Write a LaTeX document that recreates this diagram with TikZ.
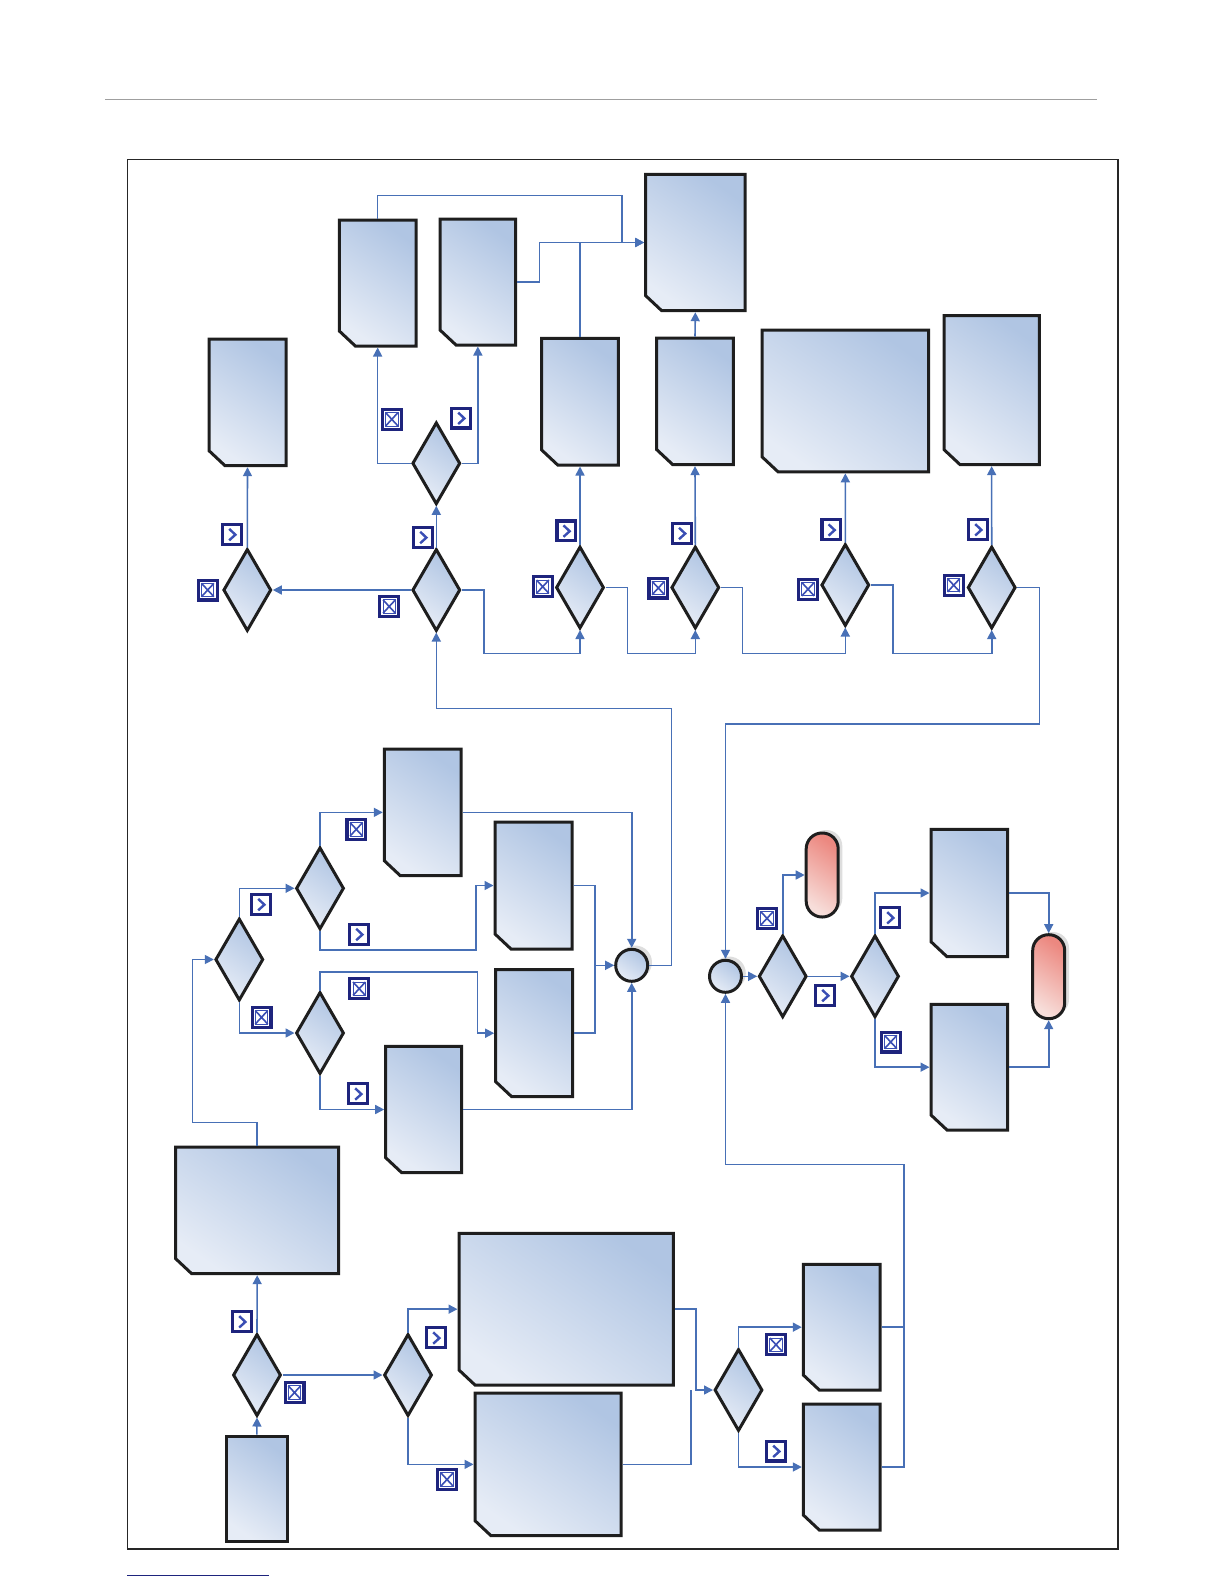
\documentclass[tikz,border=0pt]{standalone}
\usetikzlibrary{shapes.geometric,arrows.meta}
\definecolor{cline}{RGB}{72,112,182}
\definecolor{bline}{RGB}{30,30,30}
\definecolor{blight}{RGB}{230,236,246}
\definecolor{bdark}{RGB}{176,197,227}
\definecolor{rlight}{RGB}{247,222,218}
\definecolor{rdark}{RGB}{236,136,128}
\definecolor{icnavy}{RGB}{30,36,125}
\definecolor{icblue}{RGB}{58,78,180}
\tikzset{
  conn/.style={draw=cline, line width=0.8bp, -{Triangle[length=4.5bp,width=4.5bp]}},
  wire/.style={draw=cline, line width=0.8bp},
  boxshade/.style={draw=bline, line width=1.5bp, line join=miter, left color=blight, right color=bdark, shading angle=145},
  anchorbox/.style={inner sep=0pt, outer sep=0.75bp, draw=none, rectangle},
  dec/.style={shape=diamond, inner sep=0pt, minimum width=24bp, minimum height=41bp, draw=bline, line width=1.5bp, left color=blight, right color=bdark, shading angle=145},
  junc/.style={circle, inner sep=0pt, minimum size=16bp, draw=bline, line width=1.5bp, left color=blight, right color=bdark, shading angle=145},
  term/.style={rectangle, rounded corners=7.9bp, inner sep=0pt, minimum width=16bp, minimum height=42bp, draw=bline, line width=1.5bp, left color=rlight, right color=rdark, shading angle=145},
  icbase/.style={rectangle, inner sep=0pt, minimum width=11bp, minimum height=11.5bp, fill=icnavy},
  icx/.style={icbase, path picture={
    \fill[white] ([shift={(1.6bp,-1.6bp)}]path picture bounding box.north west) rectangle ([shift={(-1.6bp,1.6bp)}]path picture bounding box.south east);
    \draw[icblue, line width=0.45bp] ([shift={(2.4bp,-2.4bp)}]path picture bounding box.north west) rectangle ([shift={(-2.4bp,2.4bp)}]path picture bounding box.south east);
    \draw[icblue, line width=0.8bp] ([shift={(2.4bp,-2.4bp)}]path picture bounding box.north west) -- ([shift={(-2.4bp,2.4bp)}]path picture bounding box.south east)
      ([shift={(-2.4bp,-2.4bp)}]path picture bounding box.north east) -- ([shift={(2.4bp,2.4bp)}]path picture bounding box.south west);
  }},
  icc/.style={icbase, path picture={
    \fill[white] ([shift={(1.6bp,-1.6bp)}]path picture bounding box.north west) rectangle ([shift={(-1.6bp,1.6bp)}]path picture bounding box.south east);
    \draw[icblue, line width=1.2bp, line join=miter] ([shift={(-1.4bp,2.7bp)}]path picture bounding box.center) -- ([shift={(1.7bp,-0.2bp)}]path picture bounding box.center) -- ([shift={(-1.4bp,-3bp)}]path picture bounding box.center);
  }},
}
\newcommand{\docbox}[5]{%
  \path[boxshade] (#2,#3) -- (#4,#3) -- (#4,#5) -- ({#2+16},#5) -- (#2,{#5-15}) -- cycle;
  \node[anchorbox, minimum width={(#4-#2)*0.5bp}, minimum height={(#5-#3)*0.5bp}] (#1) at ({(#2+#4)/2},{(#3+#5)/2}) {};}
\newcommand{\plainbox}[5]{%
  \path[boxshade] (#2,#3) rectangle (#4,#5);
  \node[anchorbox, minimum width={(#4-#2)*0.5bp}, minimum height={(#5-#3)*0.5bp}] (#1) at ({(#2+#4)/2},{(#3+#5)/2}) {};}
\begin{document}
\begin{tikzpicture}[x=0.5bp,y=-0.5bp]
\useasboundingbox (0,0) rectangle (1224,1584);
\draw[gray!75, line width=0.5bp] (105,99) -- (1097,99);
\draw[black!85, line width=0.6bp] (127.3,159.6) rectangle (1118,1549);
\draw[icnavy, line width=0.6bp] (127.3,1575.3) -- (269,1575.3);

% shadows
\fill[black!13] (635.2,962.3) circle (8.4bp);
\fill[black!13] (729,973.3) circle (8.4bp);
\fill[black!13, rounded corners=8bp] (810,830) rectangle (842.3,914.3);
\fill[black!13, rounded corners=8bp] (1036.3,932) rectangle (1069,1015.3);

% boxes
\docbox{bH}{209}{339}{286}{465.7}
\docbox{bA}{339.3}{220}{416}{346}
\docbox{bB}{440}{219}{515.7}{345}
\docbox{bD}{541.7}{338.3}{618.3}{465}
\docbox{bC}{645.7}{174.3}{745}{310.7}
\docbox{bE}{656.7}{338}{733.3}{464.6}
\docbox{bF}{762}{330}{928.7}{471.8}
\docbox{bG}{944}{315.7}{1039.3}{464.6}
\docbox{bMa}{384.3}{749}{461}{875.7}
\docbox{bMb}{495}{822}{572}{949}
\docbox{bMc}{495.7}{969.7}{572.7}{1096.7}
\docbox{bMd}{385.7}{1046.3}{461.7}{1172.7}
\docbox{bRc}{931}{829.3}{1007.7}{956.7}
\docbox{bRd}{931}{1004.3}{1007.7}{1130}
\docbox{bBa}{175.7}{1147}{338.7}{1273.7}
\docbox{bBb}{459}{1233.3}{673.3}{1385}
\docbox{bBc}{475}{1393}{621}{1535.7}
\docbox{bRe}{803.3}{1264.3}{880}{1390}
\docbox{bRf}{803.3}{1404}{880}{1530}
\plainbox{bS}{226.7}{1436}{287}{1541.7}

% decisions
\node[dec] (dH) at (247.3,590) {};
\node[dec] (dM) at (436.3,590) {};
\node[dec] (dU) at (436.3,463.3) {};
\node[dec] (dD) at (580,587.5) {};
\node[dec] (dE) at (695.3,587.5) {};
\node[dec] (dF) at (845.3,585) {};
\node[dec] (dG) at (991.7,587.5) {};
\node[dec] (dLa) at (239.3,959.5) {};
\node[dec] (dLb) at (320,888.3) {};
\node[dec] (dLc) at (320,1033) {};
\node[dec] (dRa) at (782.7,976.3) {};
\node[dec] (dRb) at (875,976.3) {};
\node[dec] (dBa) at (257,1375) {};
\node[dec] (dBb) at (408,1375) {};
\node[dec] (dBc) at (738.5,1390) {};

% junctions and terminators
\node[junc] (cA) at (631.7,965.3) {};
\node[junc] (cB) at (725.5,976.3) {};
\node[term] (tA) at (822.2,875) {};
\node[term] (tB) at (1048.7,976.7) {};

% connectors, top
\draw[conn] (dM.west) -- (dH.east);
\draw[conn] (dH.north) -- (bH.south);
\draw[conn] (dM.north) -- (dU.south);
\draw[conn] (dU.west) -| (bA.south);
\draw[conn] (dU.east) -| (bB.south);
\coordinate (jA) at (622,195.3);
\draw[conn] (bA.north) |- (jA) |- (bC.west);
\coordinate (jB) at (539.3,242.5);
\draw[conn] (bB.east) -| (jB) -- (bC.west);
\draw[wire] (bD.north) -- (bD.north |- bC.west);
\draw[conn] (bE.north) -- (bC.south);
\draw[conn] (dD.north) -- (bD.south);
\draw[conn] (dE.north) -- (bE.south);
\draw[conn] (dF.north) -- (bF.south);
\draw[conn] (dG.north) -- (bG.south);
\coordinate (kM) at (483.7,653.3);
\draw[conn] (dM.east) -| (kM) -| (dD.south);
\coordinate (kD) at (627.3,653.3);
\draw[conn] (dD.east) -| (kD) -| (dE.south);
\coordinate (kE) at (742.3,653.3);
\draw[conn] (dE.east) -| (kE) -| (dF.south);
\coordinate (kF) at (892.7,653.3);
\draw[conn] (dF.east) -| (kF) -| (dG.south);
\coordinate (kG) at (1039.3,723.7);
\draw[conn] (dG.east) -| (kG) -| (cB.north);
\coordinate (kC) at (671.3,708.3);
\draw[conn] (cA.east) -| (kC) -| (dM.south);

% connectors, middle left
\coordinate (kBa) at (192.3,1122.3);
\draw[conn] (bBa.north) |- (kBa) |- (dLa.west);
\draw[conn] (dLa.north) |- (dLb.west);
\draw[conn] (dLa.south) |- (dLc.west);
\draw[conn] (dLb.north) |- (bMa.west);
\coordinate (kLb) at (476,950);
\draw[conn] (dLb.south) |- (kLb) |- (bMb.west);
\coordinate (kLc) at (477.3,972);
\draw[conn] (dLc.north) |- (kLc) |- (bMc.west);
\draw[conn] (dLc.south) |- (bMd.west);
\draw[conn] (bMa.east) -| (cA.north);
\coordinate (kMb) at (595,965.3);
\draw[conn] (bMb.east) -| (kMb) -- (cA.west);
\draw[wire] (bMc.east) -| (kMb);
\draw[conn] (bMd.east) -| (cA.south);

% connectors, right
\draw[conn] (cB.east) -- (dRa.west);
\draw[conn] (dRa.north) |- (tA.west);
\draw[conn] (dRa.east) -- (dRb.west);
\draw[conn] (dRb.north) |- (bRc.west);
\draw[conn] (dRb.south) |- (bRd.west);
\draw[conn] (bRc.east) -| (tB.north);
\draw[conn] (bRd.east) -| (tB.south);
\coordinate (kRe) at (903.7,1164.3);
\draw[conn] (bRe.east) -| (kRe) -| (cB.south);
\draw[wire] (bRf.east) -| (bRe.east -| kRe);

% connectors, bottom
\draw[conn] (bS.north) -- (dBa.south);
\draw[conn] (dBa.north) -- (bBa.south);
\draw[conn] (dBa.east) -- (dBb.west);
\draw[conn] (dBb.north) |- (bBb.west);
\draw[conn] (dBb.south) |- (bBc.west);
\coordinate (kBb) at (696,1390);
\draw[conn] (bBb.east) -| (kBb) -- (dBc.west);
\coordinate (kBc) at (690.7,1390);
\draw[wire] (bBc.east) -| (kBc);
\draw[conn] (dBc.north) |- (bRe.west);
\draw[conn] (dBc.south) |- (bRf.west);

% icons
\node[icx] (xU) at (391.8,419.3) {};
\node[icc] (vU) at (461,418) {};
\node[icc] (vM) at (423,537.2) {};
\node[icx] (xM) at (389.2,606.5) {};
\node[icc] (vH) at (232,534.3) {};
\node[icx] (xH) at (207.7,590) {};
\node[icc] (vD) at (566.3,530.8) {};
\node[icx] (xD) at (542.7,586.7) {};
\node[icc] (vE) at (681.8,533.2) {};
\node[icx] (xE) at (658.3,588) {};
\node[icc] (vF) at (831.3,529.7) {};
\node[icx] (xF) at (808,589.2) {};
\node[icc] (vG) at (978,529.5) {};
\node[icx] (xG) at (953.7,585.2) {};
\node[icc] (vLa) at (261,904.3) {};
\node[icx] (xLa) at (261.5,1017.3) {};
\node[icx] (xLb) at (356.3,829.3) {};
\node[icc] (vLb) at (359,934.2) {};
\node[icx] (xLc) at (359.2,988.7) {};
\node[icc] (vLc) at (358,1093.7) {};
\node[icx] (xRa) at (767,918.3) {};
\node[icc] (vRa) at (825,995.3) {};
\node[icc] (vRb) at (890,917.5) {};
\node[icx] (xRb) at (890.7,1042) {};
\node[icc] (vBa) at (242,1321.5) {};
\node[icx] (xBa) at (294.5,1392.5) {};
\node[icc] (vBb) at (436,1337.7) {};
\node[icx] (xBb) at (447,1479.5) {};
\node[icx] (xBc) at (776,1344.7) {};
\node[icc] (vBc) at (776,1451) {};
\end{tikzpicture}
\end{document}
